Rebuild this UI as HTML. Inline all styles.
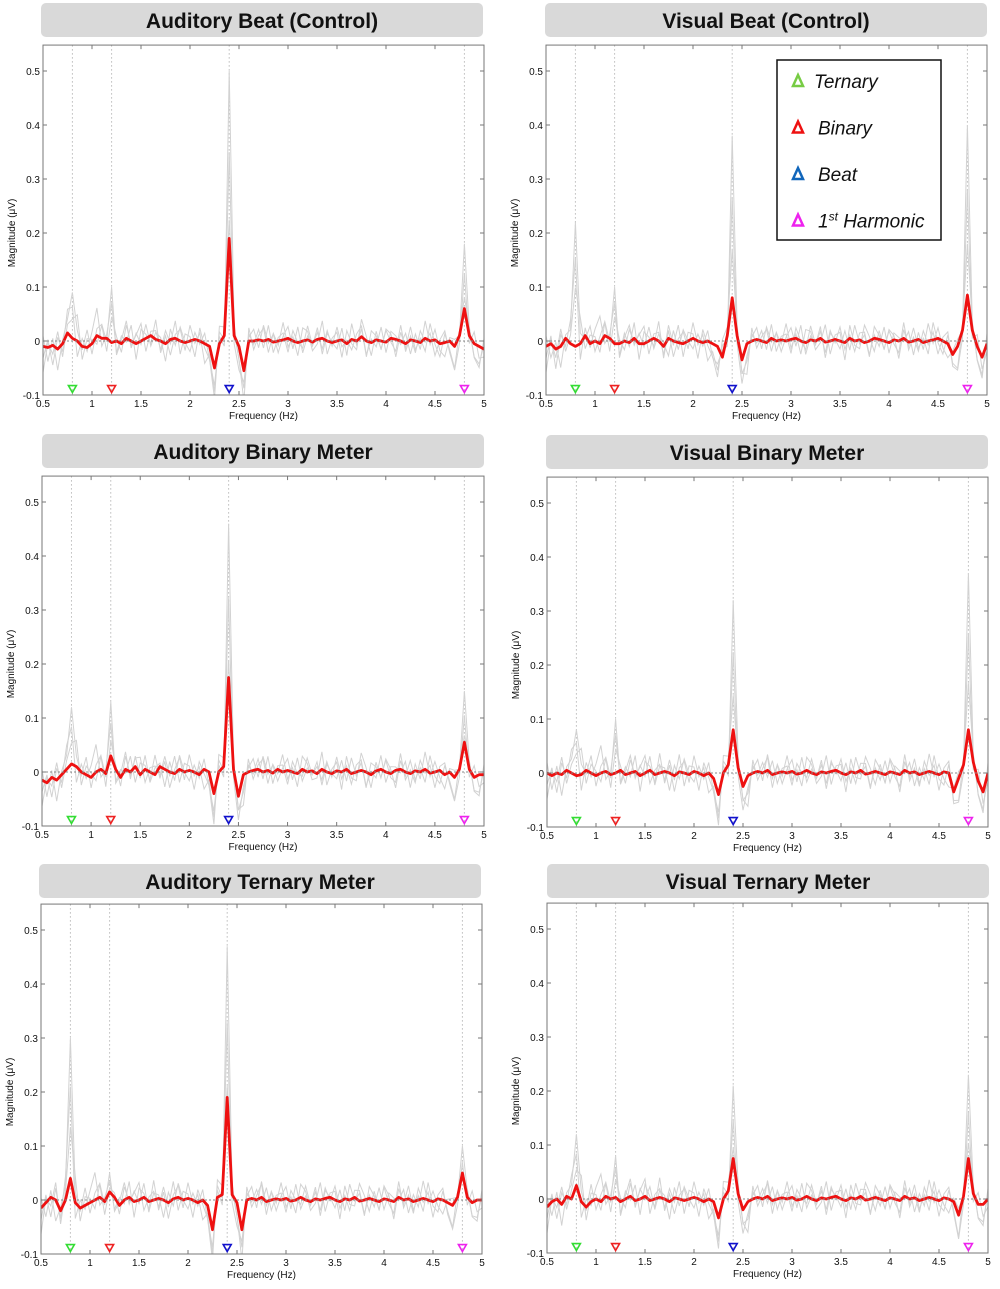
<!DOCTYPE html>
<html><head><meta charset="utf-8">
<style>
html,body{margin:0;padding:0;background:#fff;}
svg{display:block;font-family:"Liberation Sans",sans-serif;}
</style></head>
<body>
<svg id="fig" width="1000" height="1289" viewBox="0 0 1000 1289" xmlns="http://www.w3.org/2000/svg"></svg>
<script>
// frequency grid: 0.5..5.0 step 0.05 (91 points)
const freqStart = 0.5, freqStep = 0.05;
const xTicks = [0.5,1,1.5,2,2.5,3,3.5,4,4.5,5];
const yTicks = [-0.1,0,0.1,0.2,0.3,0.4,0.5];
const markerFreqs = [0.8,1.2,2.4,4.8];
const markerColors = ['#33dd33','#ee2222','#1111cc','#ee22ee'];
const titles = ['Auditory Beat (Control)','Visual Beat (Control)','Auditory Binary Meter','Visual Binary Meter','Auditory Ternary Meter','Visual Ternary Meter'];
// mean (red) curves, units of 0.001 µV
const meanAudBeat = [-10,-12,-8,-15,-5,15,5,0,-10,-12, -5,10,5,5,-3,0,-5,5,0,-5, 0,5,10,3,0,-5,3,5,0,-3, 0,3,0,-5,-10,-50,-5,10,190,10, -10,-55,0,0,2,0,3,-2,0,2, 5,0,-3,0,2,-2,3,5,0,-3, 0,2,-5,3,0,8,0,-3,2,0, -2,5,3,0,-5,2,0,-3,5,0, 2,-5,-3,0,-10,10,60,10,-5,-10, -15];
const meanVisBeat = [-10,-5,-15,-10,5,-5,-10,-5,10,-5, 0,-5,10,5,-5,-5,0,-3,5,-5, -5,0,5,0,-10,5,0,-3,-5,0, 5,0,-3,0,-5,-10,-30,10,80,10, -35,-5,0,3,0,-3,5,0,2,0, 3,5,0,-3,2,0,5,-2,0,3, 0,-3,5,0,2,-3,0,5,3,0, -3,2,0,5,-2,0,3,-3,0,2, 5,0,-5,-25,-10,20,85,20,-10,-30, -5];
const meanAudBinary = [-15,-20,-10,-15,-5,5,15,10,0,-5, -10,0,5,-3,30,5,-10,5,0,10, -5,5,0,-5,10,5,0,-3,5,0, 3,0,-5,5,0,-40,0,10,175,5, -45,-5,0,3,5,0,3,-2,5,0, 3,0,-3,5,0,2,-3,5,0,-3, 2,0,5,-3,0,3,0,-5,2,5, 0,-3,3,5,0,-3,2,0,5,-2, 0,3,-5,0,-10,5,55,5,-10,-5, -5];
const meanVisBinary = [0,-5,0,-3,5,0,-5,-3,5,0, -5,0,3,-3,0,5,-3,0,3,-5, 0,5,-3,0,3,0,-5,2,0,-3, 3,0,-5,0,-10,-40,0,15,80,10, -25,-5,0,3,0,5,-3,0,2,0, 3,-2,0,5,0,-3,2,0,3,5, 0,-3,2,0,5,-2,0,3,0,-3, 2,0,-3,5,0,2,-3,0,3,0, -3,2,0,-35,-10,15,80,20,-15,-35, 0];
const meanAudTernary = [-15,-5,5,0,-20,0,40,-5,-15,-10, -5,0,5,-3,15,5,-10,0,5,-3, 0,5,-3,0,3,0,-5,2,5,0, 3,0,-5,0,-10,-55,5,10,190,10, -5,-55,0,3,0,5,-3,0,2,0, 3,-2,0,5,0,-3,2,0,3,5, 0,-3,2,0,5,-2,0,3,0,-3, 2,0,-3,5,0,2,-3,0,3,0, -3,2,0,-5,-10,5,50,5,-5,0, 0];
const meanVisTernary = [-15,-5,0,-10,5,0,25,-5,-15,-5, 0,-5,5,0,3,-5,0,5,-3,0, 5,-3,0,3,0,-5,2,0,-3,0, 3,0,-5,0,-5,-35,0,15,75,10, -20,-5,0,3,0,5,-3,0,2,0, 3,-2,0,5,0,-3,2,0,3,5, 0,-3,2,0,5,-2,0,3,0,-3, 2,0,-3,5,0,2,-3,0,3,0, -3,2,0,-5,-30,5,75,10,-10,-10, 0];
// individual-subject (gray) deviations, units 0.001
const subjDevA = [30,-40,20,-60,10,40,-20,30,-10,50,-30,20,40,-10,30,-40,10,50,-20,30,-10,40,-30,20,10,-50,30,-20,40,0,-30,20,-10,30,-40,-50,20,-30,0,30,-40,-50,20,-10,30,-20,40,-30,10,20,-40,30,0,-20,40,-10,20,-30,30,-10,40,-20,10,-30,20,30,-40,10,-20,40,-30,20,10,-10,30,-40,20,-20,50,-10,30,-20,-40,10,20,0,-30,20,-40,-60,30];
const subjDevB = [-30,20,-50,30,-20,60,10,-40,20,-10,30,70,-20,10,40,-30,20,-10,40,-40,30,10,-20,50,-30,20,-40,10,30,-20,40,-10,20,-50,-20,-60,30,-10,0,-20,-60,-30,10,30,-20,40,-10,20,-30,10,30,-20,40,-30,10,-10,30,-40,20,0,-20,30,-30,40,-10,20,-40,30,10,-20,30,-10,-30,40,-20,10,-30,30,-10,20,-40,10,30,-30,-60,-20,0,-20,30,-30,-20];
const subjDevC = [-60,10,-20,40,-30,20,-50,60,-30,20,10,-20,30,-30,50,10,-20,30,-10,20,40,-30,10,20,-20,30,-10,40,-30,20,10,-40,30,-10,-30,-70,40,20,0,10,-30,-70,30,-20,10,30,-30,20,-10,40,-20,10,-30,30,20,-20,-10,40,-30,10,20,-40,30,-10,-20,40,10,-30,20,-20,30,10,-40,20,-10,30,-20,10,-30,40,-10,-30,20,-20,-50,10,0,20,-30,-40,10];
// peak magnitudes of gray subject traces at markers (µV): [0.8,1.2,2.4,4.8]
const subjPeaks = [[0.09,0.1,0.5,0.18],[0.22,0.1,0.38,0.4],[0.12,0.13,0.46,0.15],[0.08,0.1,0.32,0.37],[0.3,0.05,0.47,0.1],[0.12,0.08,0.21,0.23]];
const means = [meanAudBeat,meanVisBeat,meanAudBinary,meanVisBinary,meanAudTernary,meanVisTernary];

const layouts = [
 {tx:41,ty:3,tw:442,th:34,x0:43,x1:484,yz:341},
 {tx:545,ty:3,tw:442,th:34,x0:546,x1:987,yz:341},
 {tx:42,ty:434,tw:442,th:34,x0:42,x1:484,yz:772},
 {tx:546,ty:435,tw:442,th:34,x0:547,x1:988,yz:773},
 {tx:39,ty:864,tw:442,th:34,x0:41,x1:482,yz:1200},
 {tx:547,ty:864,tw:442,th:34,x0:547,x1:988,yz:1199}
];
const NS='http://www.w3.org/2000/svg';
const svg=document.getElementById('fig');
function mk(tag,attrs,parent){const e=document.createElementNS(NS,tag);for(const k in attrs)e.setAttribute(k,attrs[k]);(parent||svg).appendChild(e);return e;}

layouts.forEach((L,p)=>{
  const g=mk('g',{});
  
  
  const pxPerUnit=540;
  const xs=f=>L.x0+(f-0.5)/4.5*(L.x1-L.x0);
  const ys=v=>L.yz-v*pxPerUnit;
  const top=ys(0.548), bot=ys(-0.1);
  const tb=mk('rect',{x:L.tx,y:L.ty,width:L.tw,height:L.th,rx:5,fill:'#d9d9d9'},g);
  
  
  const tt=mk('text',{x:L.tx+L.tw/2,y:L.ty+L.th/2+8,'text-anchor':'middle','font-size':21,'font-weight':'bold',fill:'#111'},g);
  tt.textContent=titles[p];
  
  
  const cid='clip'+p;
  const cp=mk('clipPath',{id:cid},g);
  mk('rect',{x:L.x0,y:top,width:L.x1-L.x0,height:bot-top},cp);
  markerFreqs.forEach(f=>{
    const l=mk('line',{x1:xs(f),x2:xs(f),y1:top,y2:bot,stroke:'#bbb','stroke-width':1,'stroke-dasharray':'1.5,2.5'},g);
    
    
  });
  const plot=mk('g',{'clip-path':'url(#'+cid+')'},g);
  const m=means[p];
  [subjDevA,subjDevB,subjDevC].forEach((dev,k)=>{
    const fac=[1,0.7,0.45][k];
    let d='';
    m.forEach((v,i)=>{
      const f=freqStart+i*freqStep;
      let val=(v+dev[i%dev.length]*(0.65+0.08*k))/1000;
      markerFreqs.forEach((mf,j)=>{if(Math.abs(f-mf)<0.01)val=subjPeaks[p][j]*fac;});
      d+=(i?'L':'M')+xs(f).toFixed(1)+','+ys(val).toFixed(1);
    });
    const pl=mk('path',{d:d,fill:'none',stroke:'#d2d2d2','stroke-width':1},plot);
    
    
  });
  const zl=mk('line',{x1:L.x0,x2:L.x1,y1:ys(0),y2:ys(0),stroke:'#888','stroke-width':1,'stroke-dasharray':'2,2'},g);
  
  
  let d='';
  m.forEach((v,i)=>{d+=(i?'L':'M')+xs(freqStart+i*freqStep).toFixed(1)+','+ys(v/1000).toFixed(1);});
  const rl=mk('path',{d:d,fill:'none',stroke:'#ee1111','stroke-width':2.8,'stroke-linejoin':'round'},plot);
  
  
  markerFreqs.forEach((f,j)=>{
    const x=xs(f),y=ys(-0.088);
    const t=mk('path',{d:`M${x-4},${y-3}L${x+4},${y-3}L${x},${y+4}Z`,fill:'none',stroke:markerColors[j],'stroke-width':1.6},g);
    
    
  });
  const ax=mk('rect',{x:L.x0,y:top,width:L.x1-L.x0,height:bot-top,fill:'none',stroke:'#777','stroke-width':1},g);
  
  
  xTicks.forEach(t=>{
    const x=xs(t);
    mk('line',{x1:x,x2:x,y1:bot,y2:bot-4,stroke:'#777'},g);
    mk('line',{x1:x,x2:x,y1:top,y2:top+4,stroke:'#777'},g);
    const tx=mk('text',{x:x,y:bot+12,'text-anchor':'middle','font-size':10,fill:'#111'},g);
    tx.textContent=String(t);
    
    
  });
  yTicks.forEach(t=>{
    const y=ys(t);
    mk('line',{x1:L.x0,x2:L.x0+4,y1:y,y2:y,stroke:'#777'},g);
    mk('line',{x1:L.x1,x2:L.x1-4,y1:y,y2:y,stroke:'#777'},g);
    const ty=mk('text',{x:L.x0-3,y:y+4,'text-anchor':'end','font-size':10,fill:'#111'},g);
    ty.textContent=String(t);
    
    
  });
  const xl=mk('text',{x:(L.x0+L.x1)/2,y:bot+24,'text-anchor':'middle','font-size':10,fill:'#111'},g);
  xl.textContent='Frequency (Hz)';
  
  
  const yc=ys(0.2);
  const yl=mk('text',{x:0,y:0,'text-anchor':'middle','font-size':10,fill:'#111',transform:`translate(${L.x0-28},${yc}) rotate(-90)`},g);
  yl.textContent='Magnitude (\u03bcV)';
  
  
});

const lg=mk('g',{});


mk('rect',{x:777,y:60,width:164,height:180,fill:'#fff',stroke:'#111','stroke-width':1.5},lg);
const legLabels=['Ternary','Binary','Beat','1st Harmonic'];
const legColors=['#77cc44','#ee1111','#1166bb','#ee22ee'];
legLabels.forEach((lab,i)=>{
  const y=81+i*46.5;
  const t=mk('path',{d:`M793,${y+5}L803,${y+5}L798,${y-6}Z`,fill:'none',stroke:legColors[i],'stroke-width':2.5},lg);
  
  
  const tx=mk('text',{x:i===0?814:818,y:y+7,'font-size':19,'font-style':'italic',fill:'#111'},lg);
  if(i===3){tx.innerHTML='1<tspan font-size="12" dy="-7">st</tspan><tspan dy="7"> Harmonic</tspan>';}
  else tx.textContent=lab;
  
  
});
</script>
</body></html>
